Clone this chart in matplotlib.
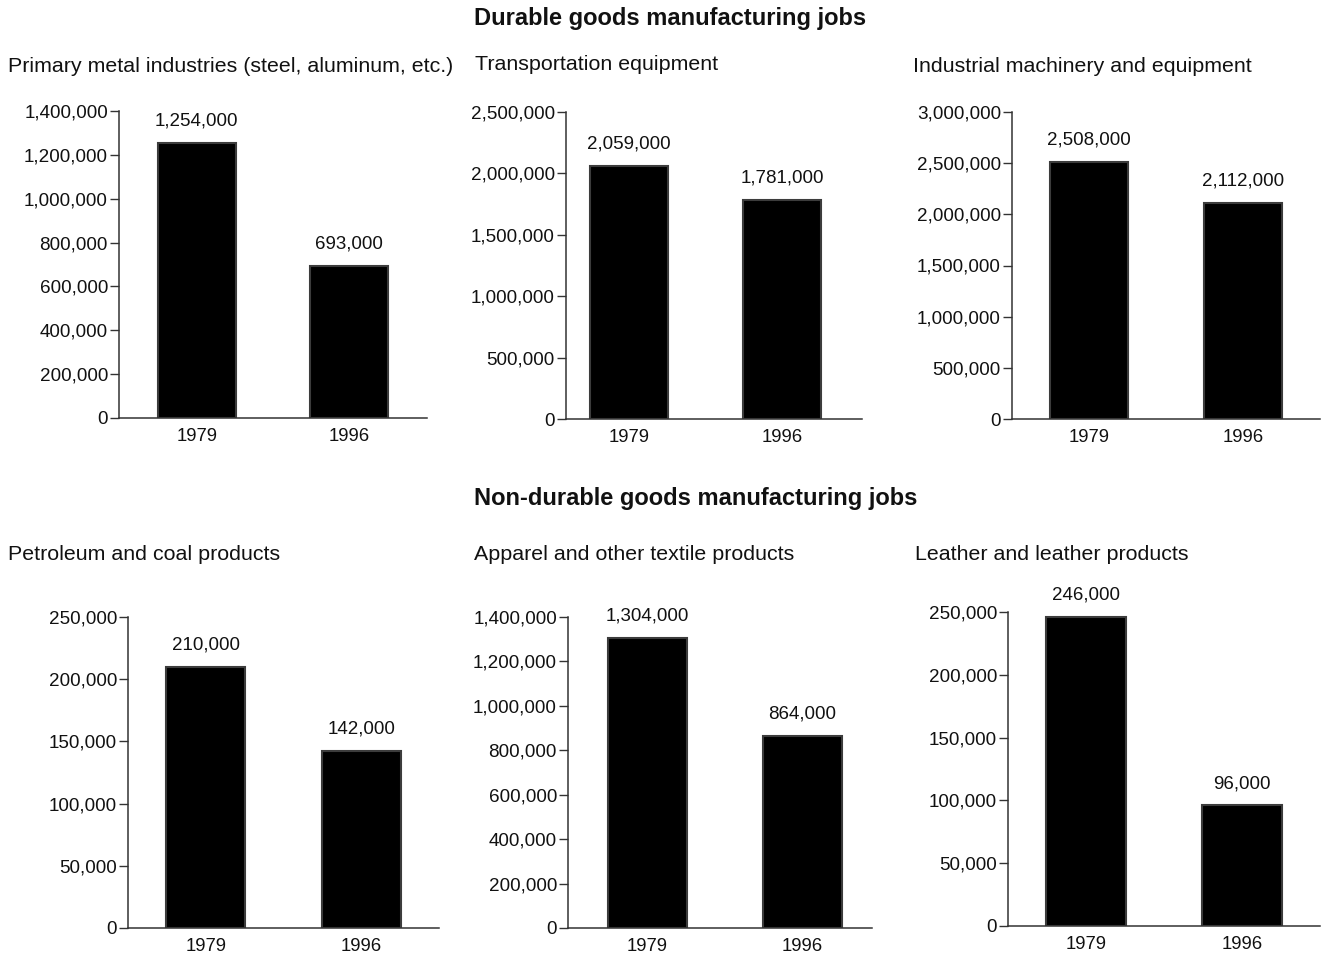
import matplotlib
matplotlib.use("Agg")
import matplotlib.pyplot as plt
from matplotlib.ticker import FuncFormatter

years = ["1979", "1996"]

primary_metal = [1254000, 693000]
transportation = [2059000, 1781000]
machinery = [2508000, 2112000]
petroleum = [210000, 142000]
apparel = [1304000, 864000]
leather = [246000, 96000]

titles = [
    "Primary metal industries (steel, aluminum, etc.)",
    "Transportation equipment",
    "Industrial machinery and equipment",
    "Petroleum and coal products",
    "Apparel and other textile products",
    "Leather and leather products",
]
series = [primary_metal, transportation, machinery, petroleum, apparel, leather]
y_max = [1400000, 2500000, 3000000, 250000, 1400000, 250000]
y_step = [200000, 500000, 500000, 50000, 200000, 50000]

W, H = 1328, 967
# pixel boxes: axis x, right end, top tick y, zero y
boxes = [
    (119, 427, 111, 418),
    (566, 862, 112, 419),
    (1012, 1320, 112, 419),
    (128, 439, 617, 928),
    (568, 872, 617, 928),
    (1008, 1320, 612, 926),
]
xlims = [(-0.51, 1.51), (-0.41, 1.52), (-0.5, 1.5), (-0.5, 1.5), (-0.51, 1.45), (-0.5, 1.5)]
# panel title positions (left x, center y) in pixels
title_pos = [(8, 66), (475, 65), (913, 67), (8, 554), (474, 554), (915, 554)]

plt.rcParams["font.family"] = ["Liberation Sans", "DejaVu Sans"]
AXIS_COLOR = "#333333"
TEXT_COLOR = "#111111"


def panel(fig, i):
    x0, x1, yt, y0 = boxes[i]
    ax = fig.add_axes([x0 / W, (H - y0) / H, (x1 - x0) / W, (y0 - yt) / H])
    vals = series[i]
    ax.bar(range(len(years)), vals, width=0.51, color="black",
           edgecolor="#3c3c3c", linewidth=1.5, zorder=2)
    for j, v in enumerate(vals):
        ax.annotate(f"{v:,}", (j, v), xytext=(0, 12.5), textcoords="offset points",
                    ha="center", va="baseline", fontsize=13.5, color=TEXT_COLOR)
    ax.set_xlim(*xlims[i])
    ax.set_ylim(0, y_max[i])
    ax.set_yticks(range(0, y_max[i] + 1, y_step[i]))
    ax.yaxis.set_major_formatter(FuncFormatter(lambda v, p: f"{int(v):,}"))
    ax.set_xticks(range(len(years)))
    ax.set_xticklabels(years)
    ax.tick_params(axis="x", length=0, pad=7.5, labelsize=13.3, labelcolor=TEXT_COLOR)
    ax.tick_params(axis="y", length=6.5, width=1, pad=1.5, labelsize=13.6,
                   color=AXIS_COLOR, labelcolor=TEXT_COLOR)
    for s in ["top", "right"]:
        ax.spines[s].set_visible(False)
    for s in ["left", "bottom"]:
        ax.spines[s].set_color(AXIS_COLOR)
        ax.spines[s].set_linewidth(1.1)
    ax.patch.set_alpha(0)
    tx, ty = title_pos[i]
    fig.text(tx / W, 1 - ty / H, titles[i], ha="left", va="center",
             fontsize=15.4, color=TEXT_COLOR)
    return ax


def main():
    fig = plt.figure(figsize=(W / 100, H / 100), dpi=100)
    fig.text(474 / W, 1 - 19 / H, "Durable goods manufacturing jobs", ha="left",
             va="center", fontsize=17, fontweight="bold", color=TEXT_COLOR)
    fig.text(474 / W, 1 - 499 / H, "Non-durable goods manufacturing jobs", ha="left",
             va="center", fontsize=17, fontweight="bold", color=TEXT_COLOR)
    for i in range(len(series)):
        panel(fig, i)
    fig.savefig("out.png", dpi=100)


if __name__ == "__main__":
    main()
